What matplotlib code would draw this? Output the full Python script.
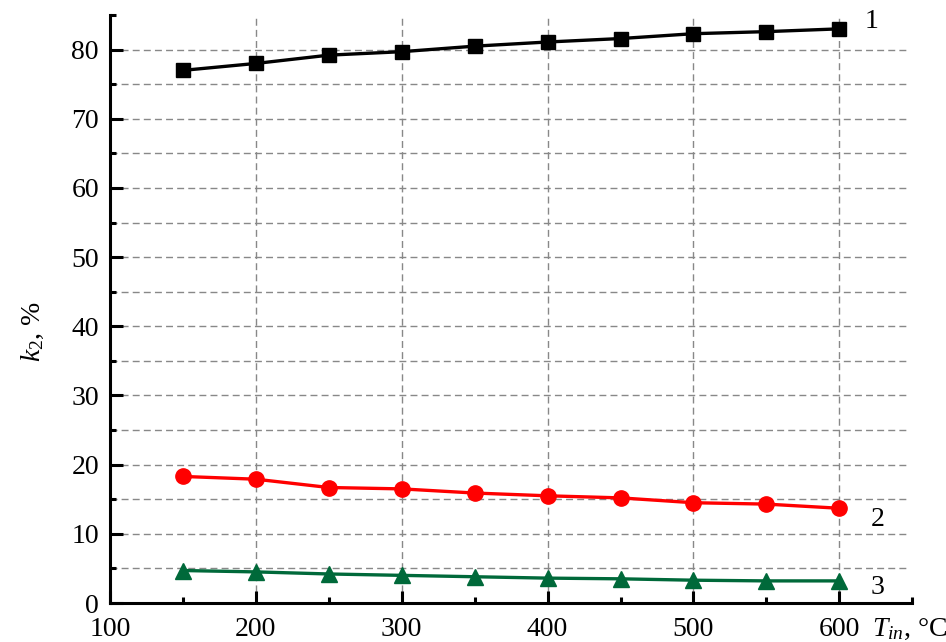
import matplotlib
matplotlib.use("Agg")
import matplotlib.pyplot as plt
from matplotlib.ticker import MultipleLocator

plt.rcParams["font.family"] = ["Liberation Serif", "DejaVu Serif"]
plt.rcParams["mathtext.fontset"] = "custom"
plt.rcParams["mathtext.rm"] = "Liberation Serif"
plt.rcParams["mathtext.it"] = "Liberation Serif:italic"

# data
t_in = [150, 200, 250, 300, 350, 400, 450, 500, 550, 600]
k_1 = [77.0, 78.0, 79.2, 79.7, 80.5, 81.1, 81.6, 82.3, 82.6, 83.0]
k_2 = [18.3, 17.9, 16.7, 16.5, 15.9, 15.5, 15.2, 14.5, 14.3, 13.7]
k_3 = [4.7, 4.5, 4.2, 4.0, 3.8, 3.6, 3.5, 3.3, 3.2, 3.2]
curve_labels = ["1", "2", "3"]
label_pos = [(622, 84.0), (626, 12.1), (626, 2.3)]

fig = plt.figure(figsize=(9.46, 6.42), dpi=100)
ax = fig.add_axes([0.1163, 0.0607, 0.848, 0.9159])

ax.plot(t_in, k_1, color="black", lw=2.4, marker="s", ms=10.5, zorder=3)
ax.plot(t_in, k_2, color="#ff0000", lw=2.4, marker="o", ms=11, zorder=3)
ax.plot(t_in, k_3, color="#00693a", lw=2.4, marker="^", ms=11.5, zorder=3)

# curve numbers near the right end
for lab, (x, y) in zip(curve_labels, label_pos):
    ax.text(x, y, lab, fontsize=20, ha="center", va="center")

ax.set_xlim(100, 650)
ax.set_ylim(0, 85)
ax.set_xticks([100, 200, 300, 400, 500, 600])
ax.xaxis.set_minor_locator(MultipleLocator(50))
ax.yaxis.set_major_locator(MultipleLocator(10))
ax.yaxis.set_minor_locator(MultipleLocator(5))

for s in ["top", "right"]:
    ax.spines[s].set_visible(False)
for s in ["left", "bottom"]:
    ax.spines[s].set_linewidth(2.2)

ax.tick_params(which="major", direction="in", length=9, width=2.2, labelsize=20, pad=8)
ax.tick_params(axis="x", which="major", pad=10)
ax.tick_params(which="minor", direction="in", length=4.5, width=2.2)

# dashed grid: verticals at the hundreds, horizontals every 5 (none at the top edge)
grid_kw = dict(color="#888888", ls=(0, (5, 3)), lw=1, zorder=1)
for x in range(200, 601, 100):
    ax.axvline(x, **grid_kw)
for y in range(5, 81, 5):
    ax.plot([100, 648], [y, y], **grid_kw)

fig.text(33 / 946, 1 - 332 / 642, r"$k_2$, %", fontsize=20, rotation=90,
         ha="center", va="center")
fig.text(872 / 946, 1 - 636 / 642, r"$T_{in}$, °C", fontsize=20,
         ha="left", va="baseline")

fig.savefig("out.png", dpi=100)
